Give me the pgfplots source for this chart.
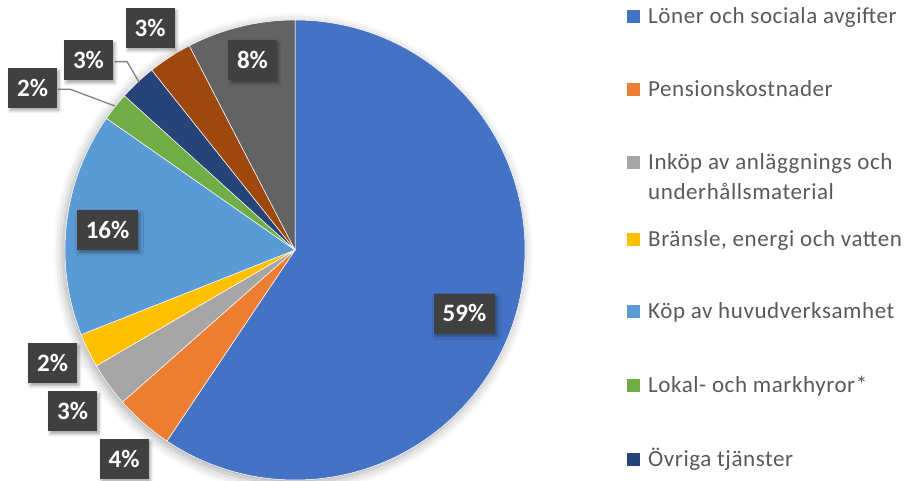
\documentclass[border=0pt]{standalone}
\usepackage{pgfplots}
\pgfplotsset{compat=1.18}
\usepackage{pgfplotstable}
\usepackage{fontspec}
\setmainfont{Carlito}
\newfontfamily\legfam{Carlito}[LetterSpace=2.5]
\usetikzlibrary{shadows.blur}

\definecolor{slice0}{HTML}{4472C4}
\definecolor{slice1}{HTML}{ED7D31}
\definecolor{slice2}{HTML}{A5A5A5}
\definecolor{slice3}{HTML}{FFC000}
\definecolor{slice4}{HTML}{5B9BD5}
\definecolor{slice5}{HTML}{70AD47}
\definecolor{slice6}{HTML}{264478}
\definecolor{slice7}{HTML}{9E480E}
\definecolor{slice8}{HTML}{636363}
\definecolor{lblbg}{HTML}{404040}
\definecolor{legtext}{HTML}{595959}
\definecolor{leader}{HTML}{808080}

% share = slice size in percent, lab = printed label, lx/ly = label position (radius units)
\pgfplotstableread{
share lab lx     ly
59.4  59  0.737  -0.278
4.1   4   -0.743 -0.909
3.1   3   -0.967 -0.702
2.4   2   -1.054 -0.493
15.7  16  -0.815  0.085
2.0   2   -1.141  0.704
2.6   3   -0.898  0.824
3.1   3   -0.630  0.965
7.6   8   -0.185  0.824
}\piedata

\newcommand\legfont{\legfam\fontsize{23}{30}\selectfont}
\tikzset{lbl/.style={fill=lblbg, text=white, font=\fontsize{25}{30}\selectfont\bfseries,
  inner xsep=9pt, inner ysep=0pt, text height=16pt, text depth=0pt, minimum height=40pt,
  blur shadow={shadow xshift=2pt, shadow yshift=-2.5pt, shadow blur radius=3pt, shadow opacity=35}}}

\begin{document}
\begin{tikzpicture}
\useasboundingbox (0,0) rectangle (904pt,481pt);
\begin{axis}[
  at={(295pt,231pt)}, anchor=origin,
  x=230pt, y=230pt,
  xmin=-1.35, xmax=1.05, ymin=-1.05, ymax=1.05,
  hide axis, clip=false,
]
\path[fill=white, blur shadow={shadow xshift=-2pt, shadow yshift=-3pt, shadow blur radius=10pt, shadow opacity=35}]
  (axis cs:0,0) circle[radius=230pt];
\def\cum{0}
\pgfplotsforeachungrouped \i in {0,...,8}{%
  \pgfplotstablegetelem{\i}{share}\of\piedata \let\sh\pgfplotsretval
  \pgfmathsetmacro\a{90-3.6*\cum}%
  \pgfmathsetmacro\b{90-3.6*(\cum+\sh)}%
  \pgfmathsetmacro\cum{\cum+\sh}%
  \edef\temp{\noexpand\fill[fill=slice\i, draw=white, line width=0.5pt]
    (axis cs:0,0) -- (axis cs:{cos(\a)},{sin(\a)}) arc[start angle=\a, end angle=\b, radius=230pt] -- cycle;}%
  \temp
}
\addplot[leader, line width=1.3pt, no markers] coordinates {(-0.783,0.819) (-0.730,0.819) (-0.678,0.730)};
\addplot[leader, line width=1.3pt, no markers] coordinates {(-1.030,0.699) (-0.978,0.699) (-0.783,0.626)};
\pgfplotsforeachungrouped \i in {0,...,8}{%
  \pgfplotstablegetelem{\i}{lab}\of\piedata \let\lab\pgfplotsretval
  \pgfplotstablegetelem{\i}{lx}\of\piedata \let\lx\pgfplotsretval
  \pgfplotstablegetelem{\i}{ly}\of\piedata \let\ly\pgfplotsretval
  \edef\temp{\noexpand\node[lbl] at (axis cs:\lx,\ly) {\lab\noexpand\%};}%
  \temp
}
\end{axis}
% legend
\foreach \c/\yc in {slice0/17, slice1/90, slice2/163, slice3/240, slice4/312, slice5/386, slice6/460}{
  \fill[\c] (627pt,{481pt-\yc pt-6.5pt}) rectangle ++(13.3pt,13.3pt);
}
\node[anchor=base west, font=\legfont, text=legtext, inner sep=0pt] at (648pt,{481pt-23.5pt}) {Löner och sociala avgifter};
\node[anchor=base west, font=\legfont, text=legtext, inner sep=0pt] at (648pt,{481pt-96.5pt}) {Pensionskostnader};
\node[anchor=base west, font=\legfont, text=legtext, inner sep=0pt] at (648pt,{481pt-170pt}) {Inköp av anläggnings och};
\node[anchor=base west, font=\legfont, text=legtext, inner sep=0pt] at (648pt,{481pt-200pt}) {underhållsmaterial};
\node[anchor=base west, font=\legfont, text=legtext, inner sep=0pt] at (648pt,{481pt-246.5pt}) {Bränsle, energi och vatten};
\node[anchor=base west, font=\legfont, text=legtext, inner sep=0pt] at (648pt,{481pt-318.5pt}) {Köp av huvudverksamhet};
\node[anchor=base west, font=\legfont, text=legtext, inner sep=0pt] at (648pt,{481pt-392.5pt}) {Lokal- och markhyror*};
\node[anchor=base west, font=\legfont, text=legtext, inner sep=0pt] at (648pt,{481pt-466.5pt}) {Övriga tjänster};
\end{tikzpicture}
\end{document}
